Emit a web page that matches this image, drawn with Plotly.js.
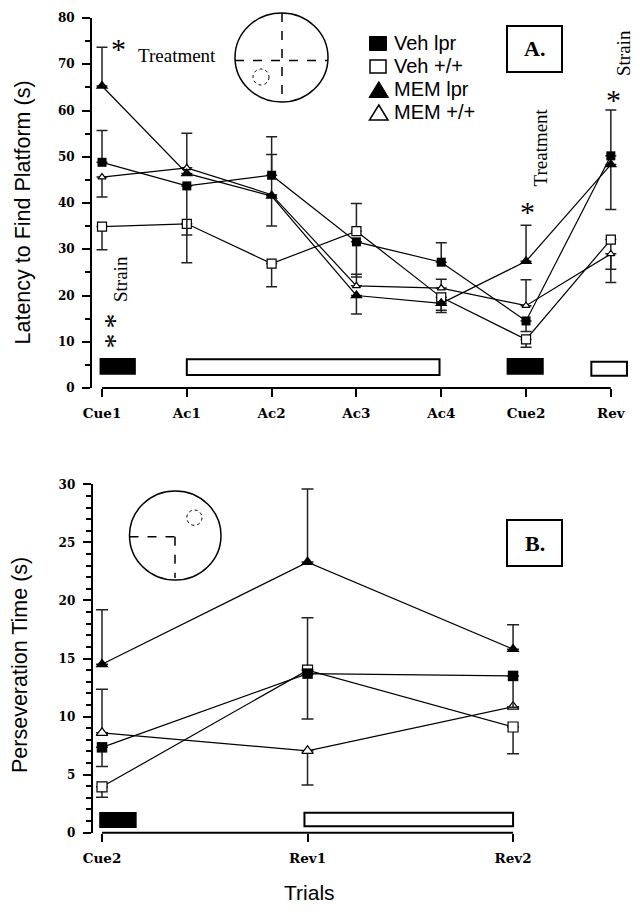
<!DOCTYPE html>
<html>
<head>
<meta charset="utf-8">
<script src="https://cdn.plot.ly/plotly-3.0.1.min.js"></script>
<style>html,body{margin:0;padding:0;background:#fff;}#chart{width:638px;height:911px;}</style>
</head>
<body>
<div id="chart"></div>
<script>
// ---------- DATA ----------
// Panel A: latency to find platform (s)
const trialsA = ['Cue1', 'Ac1', 'Ac2', 'Ac3', 'Ac4', 'Cue2', 'Rev'];
const vehLprA      = [48.8, 43.7, 46.0, 31.6, 27.2, 14.5, 50.2];
const vehLprAUp    = [6.9, 0, 8.3, 0, 4.2, 0, 9.9];
const vehLprADown  = [0, 10.6, 0, 7.6, 0, 2.3, 0];
const vehWtA       = [34.9, 35.5, 26.9, 33.9, 19.6, 10.5, 32.1];
const vehWtAUp     = [0, 0, 0, 6.0, 0, 0, 0];
const vehWtADown   = [5.0, 8.4, 5.0, 0, 2.8, 1.7, 9.3];
const memLprA      = [65.3, 46.4, 41.5, 20.0, 18.3, 27.4, 48.3];
const memLprAUp    = [8.4, 0, 0, 0, 0, 7.8, 0];
const memLprADown  = [0, 0, 6.5, 4.0, 2.0, 0, 9.7];
const memWtA       = [45.6, 47.6, 41.8, 22.1, 21.6, 17.8, 29.0];
const memWtAUp     = [0, 7.5, 8.7, 2.5, 1.9, 5.6, 0];
const memWtADown   = [4.3, 0, 0, 0, 0, 0, 3.3];
// phase bars under panel A: [start index, end index, bottom, top]
const cueBarsA = [[-0.02, 0.39, 3.0, 6.3], [4.78, 5.2, 3.0, 6.3]];
const acqBarsA = [[1.0, 3.98, 2.8, 6.2], [5.77, 6.19, 2.65, 5.7]];

// Panel B: perseveration time (s)
const trialsB = ['Cue2', 'Rev1', 'Rev2'];
const vehLprB      = [7.35, 13.7, 13.5];
const vehLprBUp    = [0, 0, 0];
const vehLprBDown  = [1.65, 3.9, 2.7];
const vehWtB       = [3.95, 14.0, 9.1];
const vehWtBUp     = [0, 4.5, 0];
const vehWtBDown   = [0.9, 0, 2.3];
const memLprB      = [14.5, 23.3, 15.8];
const memLprBUp    = [4.7, 6.3, 2.1];
const memLprBDown  = [0, 0, 0];
const memWtB       = [8.6, 7.05, 10.85];
const memWtBUp     = [3.75, 0, 0];
const memWtBDown   = [0, 2.95, 0];
const cueBarsB = [[-0.01, 0.165, 0.47, 1.72]];
const revBarsB = [[0.985, 2.0, 0.55, 1.72]];

const seriesNames = ['Veh lpr', 'Veh +/+', 'MEM lpr', 'MEM +/+'];

// ---------- HELPERS ----------
const W = 638, H = 911;
const px = v => v / W;
const py = v => (H - v) / H;
const ERR = '#222';

function trace(name, x, y, up, down, symbol, filled, size, xa, ya, ew) {
  return {
    type: 'scatter', mode: 'lines+markers', name: name, x: x, y: y,
    xaxis: xa, yaxis: ya, showlegend: false, cliponaxis: false,
    line: {color: '#000', width: 1.2},
    marker: {symbol: symbol, size: size, color: filled ? '#000' : '#fff',
             line: {color: '#000', width: filled ? 0 : 1.2}},
    error_y: {type: 'data', symmetric: false, array: up, arrayminus: down,
              color: ERR, thickness: 1.5, width: ew}
  };
}

const data = [
  trace(seriesNames[1], trialsA, vehWtA, vehWtAUp, vehWtADown, 'square', false, 9, 'x', 'y', 5.5),
  trace(seriesNames[3], trialsA, memWtA, memWtAUp, memWtADown, 'triangle-up', false, 7, 'x', 'y', 5.5),
  trace(seriesNames[0], trialsA, vehLprA, vehLprAUp, vehLprADown, 'square', true, 9, 'x', 'y', 5.5),
  trace(seriesNames[2], trialsA, memLprA, memLprAUp, memLprADown, 'triangle-up', true, 11, 'x', 'y', 5.5),
  trace(seriesNames[1], trialsB, vehWtB, vehWtBUp, vehWtBDown, 'square', false, 10, 'x2', 'y2', 6),
  trace(seriesNames[3], trialsB, memWtB, memWtBUp, memWtBDown, 'triangle-up', false, 10, 'x2', 'y2', 6),
  trace(seriesNames[0], trialsB, vehLprB, vehLprBUp, vehLprBDown, 'square', true, 10.5, 'x2', 'y2', 6),
  trace(seriesNames[2], trialsB, memLprB, memLprBUp, memLprBDown, 'triangle-up', true, 11.5, 'x2', 'y2', 6)
];

const tickFontX = {family: 'DejaVu Serif', size: 13.5, weight: 'bold', color: '#000'};
const tickFontY = {family: 'DejaVu Serif', size: 12, weight: 'bold', color: '#000'};

function xAxis(domain, range, anchor) {
  return {domain: domain, range: range, anchor: anchor, type: 'category',
          showline: false, showgrid: false, zeroline: false,
          ticks: 'outside', ticklen: 8, tickwidth: 2, tickcolor: '#000',
          tickfont: tickFontX, ticklabelstandoff: 5, fixedrange: true};
}
function yAxis(domain, range, dtick, minor, anchor) {
  return {domain: domain, range: range, anchor: anchor, dtick: dtick,
          showline: true, linewidth: 2, linecolor: '#000',
          showgrid: false, zeroline: false,
          ticks: 'outside', ticklen: 8, tickwidth: 2, tickcolor: '#000',
          minor: {dtick: minor, ticks: 'outside', ticklen: 5, tickwidth: 2, tickcolor: '#000'},
          tickfont: tickFontY, ticklabelstandoff: 5, fixedrange: true};
}

const yDomA = [py(388), py(18)];
const yDomB = [py(832.7), py(484.3)];

const shapes = [];
// x-axis baselines (from first to last category)
shapes.push({type: 'line', xref: 'x', yref: 'paper', x0: 0, x1: trialsA.length - 1, y0: yDomA[0], y1: yDomA[0], line: {color: '#000', width: 2}});
shapes.push({type: 'line', xref: 'x2', yref: 'paper', x0: 0, x1: trialsB.length - 1, y0: yDomB[0], y1: yDomB[0], line: {color: '#000', width: 2}});
// phase bars
cueBarsA.forEach(b => shapes.push({type: 'rect', xref: 'x', yref: 'y', x0: b[0], x1: b[1], y0: b[2], y1: b[3], fillcolor: '#000', line: {color: '#000', width: 1.5}}));
acqBarsA.forEach(b => shapes.push({type: 'rect', xref: 'x', yref: 'y', x0: b[0], x1: b[1], y0: b[2], y1: b[3], fillcolor: '#fff', line: {color: '#000', width: 2}}));
cueBarsB.forEach(b => shapes.push({type: 'rect', xref: 'x2', yref: 'y2', x0: b[0], x1: b[1], y0: b[2], y1: b[3], fillcolor: '#000', line: {color: '#000', width: 1.5}}));
revBarsB.forEach(b => shapes.push({type: 'rect', xref: 'x2', yref: 'y2', x0: b[0], x1: b[1], y0: b[2], y1: b[3], fillcolor: '#fff', line: {color: '#000', width: 2}}));

// pool insets
function P(t, extra) { return Object.assign({xref: 'paper', yref: 'paper', layer: 'above'}, t, extra || {}); }
// Panel A pool
shapes.push(P({type: 'circle', x0: px(235), x1: px(328), y0: py(102), y1: py(13), line: {color: '#000', width: 1.5}}));
shapes.push(P({type: 'line', x0: px(282), x1: px(282), y0: py(13), y1: py(102), line: {color: '#000', width: 1.5, dash: 'dash'}}));
shapes.push(P({type: 'line', x0: px(235), x1: px(328), y0: py(60.5), y1: py(60.5), line: {color: '#000', width: 1.5, dash: 'dash'}}));
shapes.push(P({type: 'circle', x0: px(253), x1: px(269), y0: py(85), y1: py(69), line: {color: '#000', width: 1, dash: 'dot'}}));
// Panel B pool
shapes.push(P({type: 'circle', x0: px(129.5), x1: px(221), y0: py(580), y1: py(491), line: {color: '#000', width: 1.5}}));
shapes.push(P({type: 'line', x0: px(129.5), x1: px(175), y0: py(536.7), y1: py(536.7), line: {color: '#000', width: 1.5, dash: 'dash'}}));
shapes.push(P({type: 'line', x0: px(175), x1: px(175), y0: py(536.7), y1: py(578), line: {color: '#000', width: 1.5, dash: 'dash'}}));
shapes.push(P({type: 'circle', x0: px(186.8), x1: px(202), y0: py(525.3), y1: py(510), line: {color: '#000', width: 1, dash: 'dot'}}));
// Panel label boxes
shapes.push(P({type: 'rect', x0: px(507), x1: px(562), y0: py(72), y1: py(26), line: {color: '#000', width: 2}}));
shapes.push(P({type: 'rect', x0: px(507), x1: px(562), y0: py(566), y1: py(520), line: {color: '#000', width: 2}}));
// legend symbols
shapes.push(P({type: 'rect', x0: px(369.5), x1: px(386.5), y0: py(50.5), y1: py(36.5), fillcolor: '#000', line: {color: '#000', width: 1}}));
shapes.push(P({type: 'rect', x0: px(370), x1: px(386), y0: py(73), y1: py(60), fillcolor: '#fff', line: {color: '#000', width: 1.5}}));
shapes.push(P({type: 'path', path: `M${px(369)},${py(97.5)} L${px(388.5)},${py(97.5)} L${px(378.8)},${py(81.5)} Z`, fillcolor: '#000', line: {color: '#000', width: 1}}));
shapes.push(P({type: 'path', path: `M${px(369.5)},${py(120)} L${px(388)},${py(120)} L${px(378.8)},${py(105)} Z`, fillcolor: '#fff', line: {color: '#000', width: 1.5}}));

const serif = 'Liberation Serif';
const sans = 'Liberation Sans';
function A(text, x, y, font, extra) {
  return Object.assign({xref: 'paper', yref: 'paper', x: px(x), y: py(y), text: text,
    showarrow: false, xanchor: 'center', yanchor: 'middle', font: font}, extra || {});
}
const star = {family: serif, size: 30, color: '#000'};
const serifTxt = {family: serif, size: 19, color: '#000'};
const annotations = [
  A('Latency to Find Platform (s)', 22, 212.5, {family: sans, size: 21.5, color: '#000'}, {textangle: -90}),
  A('Perseveration Time (s)', 20, 665, {family: sans, size: 21.5, color: '#000'}, {textangle: -90}),
  A('Trials', 309, 892, {family: sans, size: 21, color: '#000'}),
  A('Treatment', 177, 56, serifTxt),
  A('Strain', 624, 53, serifTxt, {textangle: -90}),
  A('Treatment', 539.5, 148, serifTxt, {textangle: -90}),
  A('Strain', 120, 279, serifTxt, {textangle: -90}),
  A('*', 118, 48, star),
  A('*', 527.5, 212, star),
  A('*', 613, 100, star),
  // two stacked asterisks (strain effect at Cue1), drawn as one rotated text
  A('*\u200A\u200A*', 107.5, 331, star, {textangle: 90}),
  A('A.', 534.5, 49, {family: serif, size: 22, weight: 'bold', color: '#000'}),
  A('B.', 534.5, 543, {family: serif, size: 22, weight: 'bold', color: '#000'})
];
const legTxt = {family: sans, size: 20, color: '#000'};
[43, 66, 89, 112].forEach((yy, i) => annotations.push(A(seriesNames[i], 392, yy, legTxt, {xanchor: 'left'})));

const layout = {
  width: W, height: H,
  margin: {l: 0, r: 0, t: 0, b: 0, pad: 0},
  paper_bgcolor: '#fff', plot_bgcolor: 'rgba(0,0,0,0)',
  showlegend: false,
  xaxis: xAxis([px(92), px(630)], [-0.118, 6.226], 'y'),
  yaxis: yAxis(yDomA, [0, 80], 10, 5, 'x'),
  xaxis2: xAxis([px(92.7), px(630)], [-0.0453, 2.569], 'y2'),
  yaxis2: yAxis(yDomB, [0, 30], 5, 1, 'x2'),
  shapes: shapes,
  annotations: annotations
};

Plotly.newPlot('chart', data, layout, {displayModeBar: false, staticPlot: true});
</script>
</body>
</html>
